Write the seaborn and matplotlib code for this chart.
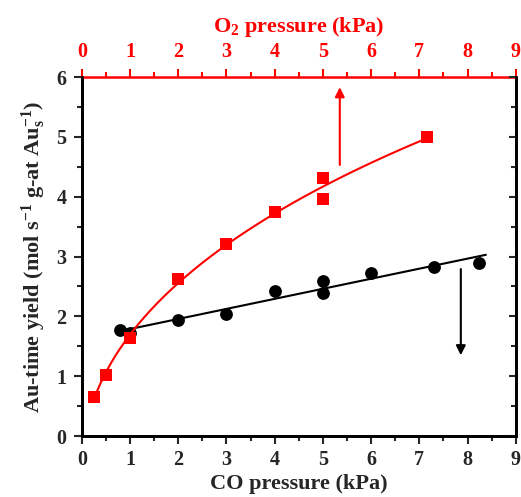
import numpy as np
import pandas as pd
import matplotlib
matplotlib.use("Agg")
import matplotlib.pyplot as plt
from matplotlib.ticker import MultipleLocator
import seaborn as sns

# ---- data ----
co_pressure = [0.80, 1.00, 2.00, 3.00, 4.00, 5.00, 5.00, 6.00, 7.31, 8.23]
co_yield = [1.77, 1.72, 1.94, 2.04, 2.42, 2.59, 2.39, 2.73, 2.82, 2.90]

o2_pressure = [0.25, 0.50, 1.00, 2.00, 3.00, 4.00, 5.00, 5.00, 7.15]
o2_yield = [0.66, 1.02, 1.63, 2.62, 3.21, 3.75, 4.31, 3.96, 4.99]

co_fit_range = [0.89, 8.38]
o2_fit_range = [0.25, 7.20]

sns.set_theme(style="ticks")
plt.rcParams["font.family"] = ["Liberation Serif", "DejaVu Serif"]
plt.rcParams["font.weight"] = "bold"
plt.rcParams["mathtext.fontset"] = "custom"
plt.rcParams["mathtext.rm"] = "Liberation Serif:bold"
plt.rcParams["mathtext.bf"] = "Liberation Serif:bold"
plt.rcParams["mathtext.it"] = "Liberation Serif:bold"
plt.rcParams["mathtext.default"] = "bf"

fig = plt.figure(figsize=(5.21, 4.97), dpi=100)
ax = fig.add_axes([0.157, 0.1227, 0.833, 0.7223])
ax2 = ax.twiny()

# linear fit for CO series
co_df = pd.DataFrame({"x": co_pressure, "y": co_yield})
p = np.polyfit(co_df.x, co_df.y, 1)
xl = np.linspace(co_fit_range[0], co_fit_range[1], 50)
sns.lineplot(x=xl, y=np.polyval(p, xl), ax=ax, color="black", lw=1.5)
sns.scatterplot(data=co_df, x="x", y="y", ax=ax, color="black", marker="o",
                s=85, edgecolor="black", linewidth=0, zorder=3)

# curved fit for O2 series (y = a + b*sqrt(x) + c*x)
o2_df = pd.DataFrame({"x": o2_pressure, "y": o2_yield})
xo = np.asarray(o2_pressure)
A = np.column_stack([np.ones_like(xo), np.sqrt(xo), xo])
coef, *_ = np.linalg.lstsq(A, np.asarray(o2_yield), rcond=None)
xc = np.linspace(o2_fit_range[0], o2_fit_range[1], 100)
yc = coef[0] + coef[1] * np.sqrt(xc) + coef[2] * xc
sns.lineplot(x=xc, y=yc, ax=ax2, color="red", lw=1.5)
sns.scatterplot(data=o2_df, x="x", y="y", ax=ax2, color="red", marker="s",
                s=65, edgecolor="red", linewidth=0, zorder=3)

# arrows
ax2.annotate("", xy=(5.35, 5.83), xytext=(5.35, 4.53),
             arrowprops=dict(arrowstyle="-|>", color="red", lw=1.5,
                             mutation_scale=14, shrinkA=0, shrinkB=0))
ax.annotate("", xy=(7.86, 1.35), xytext=(7.86, 2.79),
            arrowprops=dict(arrowstyle="-|>", color="black", lw=1.5,
                            mutation_scale=14, shrinkA=0, shrinkB=0))

for a in (ax, ax2):
    a.set_xlim(0, 9)
    a.set_ylim(0, 6)

ax.xaxis.set_major_locator(MultipleLocator(1))
ax.xaxis.set_minor_locator(MultipleLocator(0.5))
ax.yaxis.set_major_locator(MultipleLocator(1))
ax.yaxis.set_minor_locator(MultipleLocator(0.5))
ax2.xaxis.set_major_locator(MultipleLocator(1))
ax2.xaxis.set_minor_locator(MultipleLocator(0.5))

TICK_FS = 14.5
ax.tick_params(axis="x", which="major", direction="out", length=6, width=1.5,
               labelsize=TICK_FS, pad=4, top=False)
ax.tick_params(axis="x", which="minor", direction="out", length=3.5, width=1.5, top=False)
ax.tick_params(axis="y", which="major", direction="out", length=6, width=1.5,
               labelsize=TICK_FS, pad=5, right=False)
ax.tick_params(axis="y", which="minor", direction="out", length=3.5, width=1.5, right=False)

ax2.tick_params(axis="x", which="major", direction="out", length=6, width=1.5,
                labelsize=TICK_FS, colors="red", pad=5)
ax2.tick_params(axis="x", which="minor", direction="out", length=3.5, width=1.5, colors="red")

# right spine inward ticks
axr = ax.twinx()
axr.set_ylim(0, 6)
axr.yaxis.set_major_locator(MultipleLocator(1))
axr.yaxis.set_minor_locator(MultipleLocator(0.5))
axr.tick_params(axis="y", which="both", direction="in", length=3.5, width=1.5,
                labelright=False)
axr.tick_params(axis="y", which="major", length=5)

for a in (ax, ax2, axr):
    for s in a.spines.values():
        s.set_linewidth(1.8)
        s.set_color("black")
ax2.spines["top"].set_color("red")
ax.spines["top"].set_visible(False)
axr.spines["top"].set_visible(False)

for lbl in ax.get_xticklabels() + ax.get_yticklabels() + ax2.get_xticklabels():
    lbl.set_fontweight("bold")

LAB_FS = 16
ax.set_xlabel("CO pressure (kPa)", fontsize=LAB_FS, fontweight="bold", labelpad=3)
ax.set_ylabel("Au-time yield (mol s$^{-1}$ g-at Au$_{s}^{-1}$)", fontsize=LAB_FS,
              fontweight="bold", labelpad=6)
ax2.set_xlabel("O$_2$ pressure (kPa)", fontsize=LAB_FS, fontweight="bold",
               color="red", labelpad=7)
ax2.set_ylabel("")
axr.set_ylabel("")

fig.savefig("out.png", dpi=100)
